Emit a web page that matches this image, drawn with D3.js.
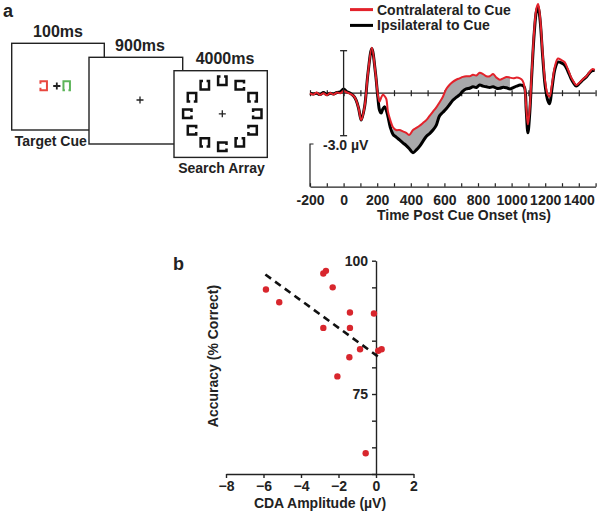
<!DOCTYPE html>
<html><head><meta charset="utf-8">
<script src="https://cdn.jsdelivr.net/npm/d3@7"></script>
<style>
body{margin:0;background:#fff}
text{font-family:"Liberation Sans",Arial,Helvetica,sans-serif;font-weight:bold;fill:#222}
</style>
</head><body>
<svg id="c" width="600" height="516"></svg>
<script>
// ---------- Panel a: ERP data ----------
const times=[-200,-180,-160,-140,-120,-100,-80,-60,-40,-20,0,20,40,60,75,90,105,125,145,168,190,204,214,224,234,244,254,264,278,294,313,333,353,373,390,413,433,452,472,492,512,532,552,571,591,611,631,650,670,690,710,730,750,770,790,810,830,850,870,890,910,930,950,970,990,1010,1030,1050,1065,1077,1087,1097,1107,1120,1135,1148,1158,1170,1185,1200,1215,1226,1240,1258,1276,1295,1315,1335,1355,1370,1385,1405,1425,1445,1465,1480,1495];
const contra=[0.0,-0.1,0.05,-0.12,0.0,-0.15,0.02,-0.1,0.05,0.0,0.15,0.05,-0.05,-0.2,-0.5,-1.1,-1.9,-0.95,1.4,3.2,1.4,-0.1,-0.6,-0.3,-0.1,-0.2,-0.4,-1.3,-1.9,-2.4,-2.6,-2.6,-2.7,-2.8,-2.95,-2.6,-2.45,-2.3,-2.1,-1.9,-1.6,-1.3,-1.0,-0.65,-0.25,0.3,0.6,0.8,0.95,1.05,1.15,1.2,1.2,1.3,1.25,1.45,1.35,1.2,1.2,1.35,1.1,0.95,1.05,1.15,1.1,1.05,1.1,1.05,0.9,0.45,-1.0,-2.2,-1.2,1.5,4.5,6.0,6.3,5.3,2.8,0.8,-0.1,-0.25,0.6,1.9,2.45,2.35,2.2,1.7,1.1,0.8,0.58,0.75,1.0,1.2,1.5,1.7,1.65];
const ipsi=[0.0,-0.05,0.0,-0.1,0.05,-0.1,0.0,-0.05,0.05,0.1,0.3,0.1,0.0,-0.2,-0.5,-1.1,-1.9,-0.95,1.4,3.15,1.4,-0.3,-1.2,-1.4,-1.1,-0.95,-1.2,-1.65,-2.4,-2.9,-3.1,-3.3,-3.5,-3.7,-3.9,-4.2,-4.0,-3.75,-3.4,-3.05,-2.85,-2.6,-2.25,-1.6,-1.35,-1.1,-0.8,-0.5,-0.3,-0.12,0.15,0.3,0.35,0.45,0.4,0.58,0.5,0.45,0.4,0.45,0.35,0.35,0.42,0.38,0.3,0.4,0.5,0.58,0.55,0.4,-1.2,-2.8,-1.6,1.3,4.3,5.8,6.1,5.1,2.6,0.5,-0.5,-0.75,0.3,1.7,2.2,2.15,2.0,1.55,1.0,0.7,0.5,0.7,0.95,1.15,1.45,1.6,1.6];
const fillRange=[290,1000];
const timeTicks=[-200,-100,0,100,200,300,400,500,600,700,800,900,1000,1100,1200,1300,1400,1500];
const timeTickLabels=[-200,0,200,400,600,800,1000,1200,1400];
const seriesNames=["Contralateral to Cue","Ipsilateral to Cue"];
const scaleBarLabel="-3.0 \u00b5V";

// ---------- Panel b: scatter data ----------
const cdaAmp=[-5.87,-5.16,-2.81,-2.67,-2.31,-2.81,-1.39,-1.39,-0.11,-0.85,-1.42,0.12,0.30,-2.06,-0.55];
const accuracy=[94.6,92.2,97.6,98.1,95.0,87.4,90.3,87.4,90.1,83.4,81.9,83.1,83.4,78.3,63.9];
const fitLine={slope:-2.56,intercept:82.3,xFrom:-5.9,xTo:0.3};
const accTicks=[60,65,70,75,80,85,90,95,100];
const accTickLabels=[75,100];
const cdaTicks=[-8,-6,-4,-2,0,2];

const svg=d3.select("#c");
const ink="#222";
const red="#e3222b";

// ================= Stimulus sequence =================
const frames=[
  {x:11.7,y:43.3,w:92.6,h:86.7,top:"100ms",topX:58,bottom:"Target Cue",botX:50.7},
  {x:89,y:57.3,w:93.7,h:86.7,top:"900ms",topX:140,bottom:null},
  {x:174,y:70.7,w:93.3,h:86.7,top:"4000ms",topX:225,bottom:"Search Array",botX:221.5}
];
const gf=svg.append("g");
frames.forEach(f=>{
  gf.append("rect").attr("x",f.x).attr("y",f.y).attr("width",f.w).attr("height",f.h)
    .attr("fill","#fff").attr("stroke",ink).attr("stroke-width",1.4);
});
frames.forEach(f=>{
  gf.append("text").attr("x",f.topX).attr("y",f.y-6.5).attr("text-anchor","middle")
    .attr("font-size",16).text(f.top);
  if(f.bottom) gf.append("text").attr("x",f.botX).attr("y",f.y+f.h+16).attr("text-anchor","middle")
    .attr("font-size",14).text(f.bottom);
});
svg.append("text").attr("x",3).attr("y",17).attr("font-size",18).text("a");

function gapSquare(cx,cy,w,h,gap,side){
  const p=d3.path();
  const l=cx-w/2,r=cx+w/2,t=cy-h/2,b=cy+h/2;
  const g=gap/2;
  if(side==="top"){p.moveTo(cx+g,t);p.lineTo(r,t);p.lineTo(r,b);p.lineTo(l,b);p.lineTo(l,t);p.lineTo(cx-g,t);}
  if(side==="bottom"){p.moveTo(cx-g,b);p.lineTo(l,b);p.lineTo(l,t);p.lineTo(r,t);p.lineTo(r,b);p.lineTo(cx+g,b);}
  if(side==="left"){p.moveTo(l,cy-g);p.lineTo(l,t);p.lineTo(r,t);p.lineTo(r,b);p.lineTo(l,b);p.lineTo(l,cy+g);}
  if(side==="right"){p.moveTo(r,cy+g);p.lineTo(r,b);p.lineTo(l,b);p.lineTo(l,t);p.lineTo(r,t);p.lineTo(r,cy-g);}
  return p.toString();
}
function plus(cx,cy,s,sw){
  svg.append("path").attr("d",`M${cx-s},${cy}H${cx+s}M${cx},${cy-s}V${cy+s}`)
    .attr("stroke",ink).attr("stroke-width",sw).attr("fill","none");
}
// cue frame
svg.append("path").attr("d",gapSquare(43.7,85.7,6.5,9,4,"left")).attr("fill","none").attr("stroke","#e8473f").attr("stroke-width",2);
svg.append("path").attr("d",gapSquare(66.7,85.7,6.5,9,3.5,"bottom")).attr("fill","none").attr("stroke","#5db55a").attr("stroke-width",2);
plus(56.8,86,3.6,1.8);
// delay frame
plus(140,100,3.5,1.3);
// search array
const searchGaps=["top","right","bottom","left","left","top","right","bottom","right","right","bottom","top"];
const arrCenter=[222.3,113.8];
plus(arrCenter[0],arrCenter[1],3.5,1.3);
searchGaps.forEach((side,i)=>{
  const a=i*Math.PI/6;
  const cx=arrCenter[0]+35*Math.sin(a), cy=arrCenter[1]-33*Math.cos(a);
  svg.append("path").attr("d",gapSquare(cx,cy,8.4,8.4,3.6,side)).attr("fill","none")
    .attr("stroke","#111").attr("stroke-width",2.5).attr("stroke-linecap","butt");
});

// ================= ERP panel =================
const x=d3.scaleLinear().domain([-200,1500]).range([310,595.6]);
const y=d3.scaleLinear().domain([-3,3]).range([135.7,50.7]);
const ge=svg.append("g");
const data=times.map((t,i)=>({t,c:contra[i],p:ipsi[i]}));
const curve=d3.curveCatmullRom.alpha(0.5);

ge.append("line").attr("x1",x(-200)).attr("x2",x(1500)).attr("y1",y(0)).attr("y2",y(0))
  .attr("stroke",ink).attr("stroke-width",1.2);
const zeroAxis=d3.axisBottom(x).tickValues(timeTicks).tickSizeInner(6).tickSizeOuter(0).tickFormat("");
const za=ge.append("g").attr("transform",`translate(0,${y(0)-3})`).call(zeroAxis);
za.select(".domain").remove();
za.selectAll("line").attr("stroke",ink).attr("stroke-width",1.2);

const fillData=data.filter(d=>d.t>=fillRange[0]&&d.t<=fillRange[1]);
ge.append("path").datum(fillData)
  .attr("d",d3.area().x(d=>x(d.t)).y0(d=>y(d.p)).y1(d=>y(d.c)).curve(curve))
  .attr("fill","#a8a8aa");

ge.append("path").datum(data).attr("d",d3.line().x(d=>x(d.t)).y(d=>y(d.p)).curve(curve))
  .attr("fill","none").attr("stroke","#000").attr("stroke-width",3).attr("stroke-linejoin","round");
ge.append("path").datum(data).attr("d",d3.line().x(d=>x(d.t)).y(d=>y(d.c)).curve(curve))
  .attr("fill","none").attr("stroke",red).attr("stroke-width",2).attr("stroke-linejoin","round");

const sb=ge.append("g").attr("stroke",ink).attr("stroke-width",1.3);
sb.append("line").attr("x1",x(0)).attr("x2",x(0)).attr("y1",y(3)).attr("y2",y(-3));
sb.append("line").attr("x1",x(0)-3.5).attr("x2",x(0)+3.5).attr("y1",y(3)).attr("y2",y(3));
sb.append("line").attr("x1",x(0)-3.5).attr("x2",x(0)+3.5).attr("y1",y(-3)).attr("y2",y(-3));
ge.append("text").attr("x",323).attr("y",150).attr("font-size",14).text(scaleBarLabel);

const axY=186.7;
const tAxis=d3.axisBottom(x).tickValues(timeTicks).tickSizeInner(-3.5).tickSizeOuter(0).tickPadding(8.5)
  .tickFormat(d=>timeTickLabels.includes(d)?d:"");
const ta=ge.append("g").attr("transform",`translate(0,${axY})`).call(tAxis);
ta.select(".domain").attr("stroke",ink).attr("stroke-width",1.2);
ta.selectAll("line").attr("stroke",ink).attr("stroke-width",1.2);
ta.selectAll("text").attr("font-size",14).attr("font-family","Liberation Sans, Arial, sans-serif").attr("font-weight","bold").attr("fill","#222");
ge.append("path").attr("d",`M${x(-200)+3.5},144H${x(-200)}V${axY}`).attr("fill","none").attr("stroke",ink).attr("stroke-width",1.2);
ge.append("text").attr("x",464).attr("y",219.5).attr("text-anchor","middle").attr("font-size",14).text("Time Post Cue Onset (ms)");

// legend
const legColors=[red,"#000"];
seriesNames.forEach((n,i)=>{
  const ly=9.6+i*15.8;
  ge.append("line").attr("x1",350).attr("x2",373).attr("y1",ly).attr("y2",ly).attr("stroke",legColors[i]).attr("stroke-width",3);
  ge.append("text").attr("x",377).attr("y",ly+5).attr("font-size",14).text(n);
});

// ================= Scatter panel =================
const sx=d3.scaleLinear().domain([-8,2]).range([226,413.5]);
const sy=d3.scaleLinear().domain([60,100]).range([474,260.7]);
const gs=svg.append("g");
svg.append("text").attr("x",173).attr("y",270).attr("font-size",18).text("b");

const yAx=d3.axisLeft(sy).tickValues(accTicks).tickSizeInner(4).tickSizeOuter(0).tickPadding(4)
  .tickFormat(d=>accTickLabels.includes(d)?d:"");
const ya=gs.append("g").attr("transform",`translate(${sx(0)},0)`).call(yAx);
const xAx=d3.axisBottom(sx).tickValues(cdaTicks).tickSizeInner(4).tickSizeOuter(0).tickPadding(3);
const xa=gs.append("g").attr("transform",`translate(0,${sy(60)})`).call(xAx);
[ya,xa].forEach(a=>{
  a.select(".domain").attr("stroke",ink).attr("stroke-width",1.4);
  a.selectAll("line").attr("stroke",ink).attr("stroke-width",1.4);
  a.selectAll("text").attr("font-size",14).attr("font-family","Liberation Sans, Arial, sans-serif").attr("font-weight","bold").attr("fill","#222");
});

gs.selectAll("circle").data(cdaAmp).join("circle")
  .attr("cx",d=>sx(d)).attr("cy",(d,i)=>sy(accuracy[i])).attr("r",3.2).attr("fill","#d8262d");

gs.append("line")
  .attr("x1",sx(fitLine.xFrom)).attr("y1",sy(fitLine.intercept+fitLine.slope*fitLine.xFrom))
  .attr("x2",sx(fitLine.xTo)).attr("y2",sy(fitLine.intercept+fitLine.slope*fitLine.xTo))
  .attr("stroke","#111").attr("stroke-width",2.6).attr("stroke-dasharray","7,5");

gs.append("text").attr("x",320).attr("y",507.5).attr("text-anchor","middle").attr("font-size",14).text("CDA Amplitude (\u00b5V)");
gs.append("text").attr("transform","translate(218,356) rotate(-90)").attr("text-anchor","middle").attr("font-size",14).text("Accuracy (% Correct)");
</script>
</body></html>
